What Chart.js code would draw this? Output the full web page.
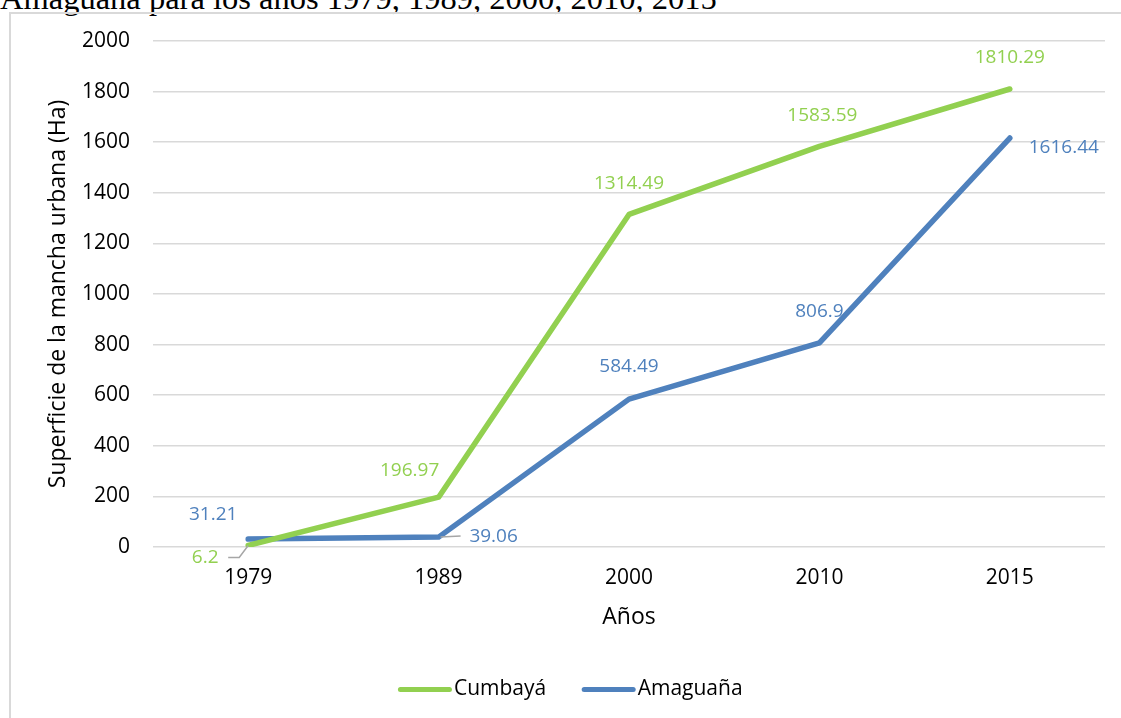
<!DOCTYPE html>
<html>
<head>
<meta charset="utf-8">
<script src="https://cdn.jsdelivr.net/npm/chart.js@4"></script>
<style>
  html, body { margin: 0; padding: 0; background: #fff; overflow: hidden; }
  body { width: 1121px; height: 718px; position: relative; }
  #caption {
    position: absolute; left: 0; top: -18px; margin: 0;
    font-family: "Liberation Serif", "Times New Roman", serif;
    font-size: 32.5px; line-height: 32px; color: #000; white-space: nowrap;
  }
  #frame {
    position: absolute; left: 9px; top: 12px; width: 1200px; height: 800px;
    border: 2px solid #d9d9d9; box-sizing: border-box;
  }
  #wrap { position: absolute; left: 0; top: 0; width: 1121px; height: 718px; }
</style>
</head>
<body>
<p id="caption">Amaguaña para los años 1979, 1989, 2000, 2010, 2015</p>
<div id="frame"></div>
<div id="wrap"><canvas id="myChart" width="1121" height="718"></canvas></div>
<script>
let years = ['1979', '1989', '2000', '2010', '2015']
let cumbaya = [6.2, 196.97, 1314.49, 1583.59, 1810.29]
let amaguana = [31.21, 39.06, 584.49, 806.9, 1616.44]

const GREEN = '#92d050'
const BLUE = '#4f81bd'
const FONT = '"Open Sans", "Liberation Sans", sans-serif'

// where each value label sits relative to its point (px)
let labelShift = {
    0: [[-43, 12], [-29, -27], [0, -31], [3, -31], [0, -31]],
    1: [[-35, -25], [55, -1], [0, -33], [0, -31], [54, 10]]
}
// short grey leader lines for labels pushed away from their point
let leaders = {
    0: { 0: [[-20, 12], [-9, 12], [0, 0]] },
    1: { 1: [[2, 0], [22, -1]] }
}

const valueLabels = {
    id: 'valueLabels',
    afterDatasetsDraw(chart) {
        const ctx = chart.ctx
        ctx.save()
        chart.data.datasets.forEach(function (ds, i) {
            const meta = chart.getDatasetMeta(i)
            meta.data.forEach(function (pt, j) {
                const lead = leaders[i] && leaders[i][j]
                if (lead) {
                    ctx.strokeStyle = '#a6a6a6'
                    ctx.lineWidth = 1.5
                    ctx.beginPath()
                    lead.forEach(function (p, k) {
                        if (k === 0) ctx.moveTo(pt.x + p[0], pt.y + p[1])
                        else ctx.lineTo(pt.x + p[0], pt.y + p[1])
                    })
                    ctx.stroke()
                }
                const s = labelShift[i][j]
                ctx.fillStyle = ds.borderColor
                ctx.font = '19px ' + FONT
                ctx.textAlign = 'center'
                ctx.textBaseline = 'middle'
                ctx.fillText(String(ds.data[j]), pt.x + s[0], pt.y + s[1])
            })
        })
        ctx.restore()
    }
}

// legend swatches as thick rounded strokes sitting close to the text
const legendLines = {
    id: 'legendLines',
    afterDraw(chart) {
        const boxes = chart.legend && chart.legend.legendHitBoxes
        if (!boxes) return
        const ctx = chart.ctx
        ctx.save()
        ctx.lineWidth = 5
        ctx.lineCap = 'round'
        boxes.forEach(function (b, i) {
            const y = b.top + b.height / 2
            ctx.strokeStyle = chart.data.datasets[i].borderColor
            ctx.beginPath()
            ctx.moveTo(b.left + 2, y)
            ctx.lineTo(b.left + 51, y)
            ctx.stroke()
        })
        ctx.restore()
    }
}

let currChart = document.getElementById('myChart').getContext('2d')

Chart.defaults.font.family = FONT
Chart.defaults.color = '#000'

let lineChart = new Chart(currChart, {
    type: 'line',
    data: {
        labels: years,
        datasets: [{
            label: 'Cumbayá',
            data: cumbaya,
            borderColor: GREEN,
            backgroundColor: GREEN,
            borderWidth: 5.5,
            borderCapStyle: 'round',
            borderJoinStyle: 'round',
            pointRadius: 0,
            pointHoverRadius: 0,
            tension: 0
        }, {
            label: 'Amaguaña',
            data: amaguana,
            borderColor: BLUE,
            backgroundColor: BLUE,
            borderWidth: 5.5,
            borderCapStyle: 'round',
            borderJoinStyle: 'round',
            pointRadius: 0,
            pointHoverRadius: 0,
            tension: 0
        }]
    },
    options: {
        responsive: false,
        animation: false,
        layout: {
            padding: { left: 36, top: 41, right: 16, bottom: 8 }
        },
        scales: {
            x: {
                offset: true,
                grid: { display: false, drawTicks: false },
                border: { display: false },
                ticks: { padding: 18, font: { size: 21 }, maxRotation: 0 },
                title: {
                    display: true,
                    text: 'Años',
                    font: { size: 23 },
                    padding: { top: 10, bottom: 12 }
                },
                afterFit: function (scale) { scale.height = 96 }
            },
            y: {
                min: 0,
                max: 2000,
                ticks: {
                    stepSize: 200,
                    padding: 23,
                    font: { size: 21 },
                    callback: function (value) { return String(value) }
                },
                grid: { color: '#d9d9d9', lineWidth: 1.5, drawTicks: false },
                border: { display: false },
                title: {
                    display: true,
                    text: 'Superficie de la mancha urbana (Ha)',
                    font: { size: 23 },
                    padding: { top: 9, bottom: 0 }
                },
                afterFit: function (scale) { scale.width = 117 }
            }
        },
        plugins: {
            legend: {
                position: 'bottom',
                labels: {
                    boxWidth: 45,
                    boxHeight: 5,
                    padding: 36,
                    font: { size: 21 },
                    generateLabels: function (chart) {
                        return chart.data.datasets.map(function (ds, i) {
                            return {
                                text: ds.label,
                                fillStyle: 'rgba(0,0,0,0)',
                                strokeStyle: 'rgba(0,0,0,0)',
                                lineWidth: 0,
                                datasetIndex: i
                            }
                        })
                    }
                }
            },
            tooltip: { enabled: false }
        }
    },
    plugins: [valueLabels, legendLines]
})
</script>
</body>
</html>
